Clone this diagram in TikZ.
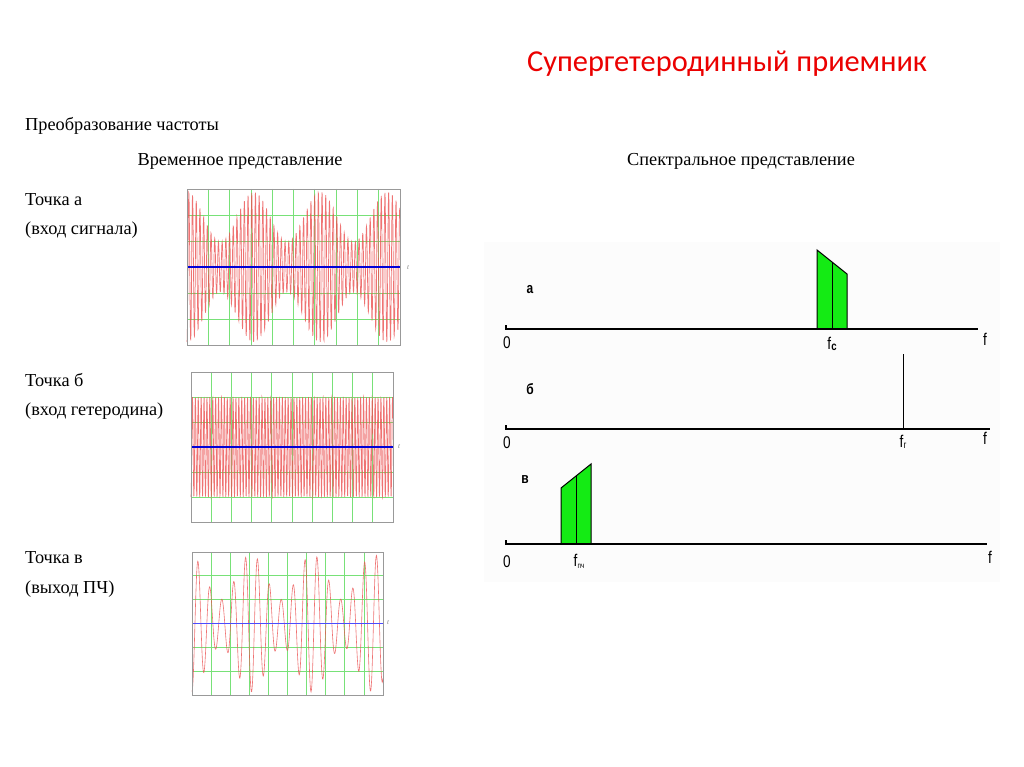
\documentclass[tikz,border=0pt]{standalone}
\usepackage{fontspec}
\setmainfont{Liberation Serif}
\newfontfamily\titlefont{Carlito}
\newfontfamily\lblfont[FakeStretch=0.8]{Liberation Sans}
\definecolor{gridgreen}{RGB}{120,225,120}
\definecolor{sigred}{RGB}{235,80,80}
\definecolor{specgreen}{RGB}{20,235,20}
\definecolor{titlered}{RGB}{235,0,0}
\tikzset{
  txt/.style={anchor=base west, inner sep=0pt, font=\fontsize{18.3}{21}\selectfont},
  head/.style={anchor=base, inner sep=0pt, font=\fontsize{18.3}{21}\selectfont},
  frame/.style={draw=gray!80, line width=0.8pt},
  gridl/.style={draw=gridgreen, line width=0.8pt},
  sig/.style={draw=sigred, line width=0.7pt, opacity=0.8},
  zero/.style={draw=blue!85!black, line width=1.2pt},
  tlbl/.style={inner sep=0pt, font=\fontsize{7}{8}\selectfont\itshape, text=gray},
  axisl/.style={draw=black, line width=1.1pt},
  band/.style={fill=specgreen, draw=black, line width=1pt, line join=miter},
  flbl/.style={inner sep=0pt, font=\lblfont\fontsize{17}{19}\selectfont},
  plbl/.style={inner sep=0pt, font=\lblfont\bfseries\fontsize{15}{17}\selectfont}
}
\begin{document}
\begin{tikzpicture}[x=1pt,y=-1pt]
\useasboundingbox (0,0) rectangle (1024,767);
\fill[white] (0,0) rectangle (1024,767);

% title
\node[anchor=base, inner sep=0pt, text=titlered, font=\titlefont\fontsize{30.4}{34}\selectfont] (title) at (727,72) {Супергетеродинный приемник};

% left texts
\node[txt] (conv) at (25,131) {Преобразование частоты};
\node[head] (timehead) at (240,166) {Временное представление};
\node[head] (spechead) at (741,166) {Спектральное представление};
\node[txt] (pa1) at (25,206) {Точка а};
\node[txt] (pa2) at (25,234) {(вход сигнала)};
\node[txt] (pb1) at (25,386) {Точка б};
\node[txt] (pb2) at (25,415) {(вход гетеродина)};
\node[txt] (pc1) at (25,563) {Точка в};
\node[txt] (pc2) at (25,593) {(выход ПЧ)};

% ---------- spectral panel background ----------
\fill[black!1.2] (484,242) rectangle (1000,582);

% ---------- plot a ----------
\fill[white] (187,189) rectangle (400,345);
\foreach \i in {1,...,9} \draw[gridl] ({187+21.3*\i},189) -- ({187+21.3*\i},345);
\foreach \j in {1,2,4,5} \draw[gridl] (187,{189+26*\j}) -- (400,{189+26*\j});
\begin{scope}[shift={(187,267)}]
  \draw[sig] plot[domain=0:213, samples=1200] (\x, {75*(1+0.5*cos(\x*5.4))/1.5*sin(360*mod(\x/3.7,1)+90)});
\end{scope}
\draw[zero] (187,267) -- (400,267);
\draw[frame] (187,189) rectangle (400,345);
\node[tlbl] (ta) at (408,268) {t};

% ---------- plot b ----------
\foreach \i in {1,...,9} \draw[gridl] ({191+20.2*\i},372) -- ({191+20.2*\i},522);
\foreach \j in {1,2,4,5} \draw[gridl] (191,{372+25*\j}) -- (393,{372+25*\j});
\begin{scope}[shift={(191,447)}]
  \draw[sig] plot[domain=0:202, samples=1000] (\x, {50*sin(360*mod(\x/2.9,1)+90)});
\end{scope}
\draw[zero] (191,447) -- (393,447);
\draw[frame] (191,372) rectangle (393,522);
\node[tlbl] (tb) at (399,447) {t};

% ---------- plot c ----------
\foreach \i in {1,...,9} \draw[gridl] ({192+19.1*\i},552) -- ({192+19.1*\i},695);
\foreach \j in {1,2,4,5} \draw[gridl] (192,{552+23.8*\j}) -- (383,{552+23.8*\j});
\begin{scope}[shift={(192,623)}]
  \draw[sig, line width=0.6pt] plot[domain=0:191, samples=500] (\x, {69*(1+0.49*cos((\x-59)*5.9))/1.49*sin(360*mod(\x/11.9,1)+90)});
\end{scope}
\draw[draw=blue!70, line width=0.8pt] (192,623) -- (383,623);
\draw[frame] (192,552) rectangle (383,695);
\node[tlbl] (tc) at (388,623) {t};

% panel a
\draw[band] (817,329) -- (817,250) -- (847,274) -- (847,329);
\draw[black, line width=0.5pt] (832,329) -- (832,262);
\draw[axisl] (506,325) -- (506,329) -- (978,329);
\node[plbl] (la) at (530,290) {а};
\node[flbl] (za) at (507,343) {0};
\node[flbl] (fa) at (985,339) {f};
\node[flbl, anchor=base] (fc) at (832,349) {f\kern0.3pt\raisebox{-1.5pt}{\bfseries\fontsize{12}{13}\selectfont c}};

% panel b
\draw[black, line width=1pt] (903,429) -- (903,354);
\draw[axisl] (506,425) -- (506,429) -- (990,429);
\node[plbl] (lb) at (530,389) {б};
\node[flbl] (zb) at (507,443) {0};
\node[flbl] (fb) at (985,438) {f};
\node[flbl, anchor=base] (fg) at (903,447) {f\kern0.3pt\raisebox{-1.5pt}{\fontsize{10}{11}\selectfont г}};

% panel c
\draw[band] (561,544) -- (561,488) -- (591,464) -- (591,544);
\draw[black, line width=0.5pt] (576,544) -- (576,476);
\draw[axisl] (506,540) -- (506,544) -- (987,544);
\node[plbl] (lc) at (525,480) {в};
\node[flbl] (zc) at (507,562) {0};
\node[flbl] (fcc) at (990,557) {f};
\node[flbl, anchor=base] (fpch) at (579,566) {f\kern0.3pt\raisebox{-2pt}{\fontsize{8}{9}\selectfont пч}};
\end{tikzpicture}
\end{document}
